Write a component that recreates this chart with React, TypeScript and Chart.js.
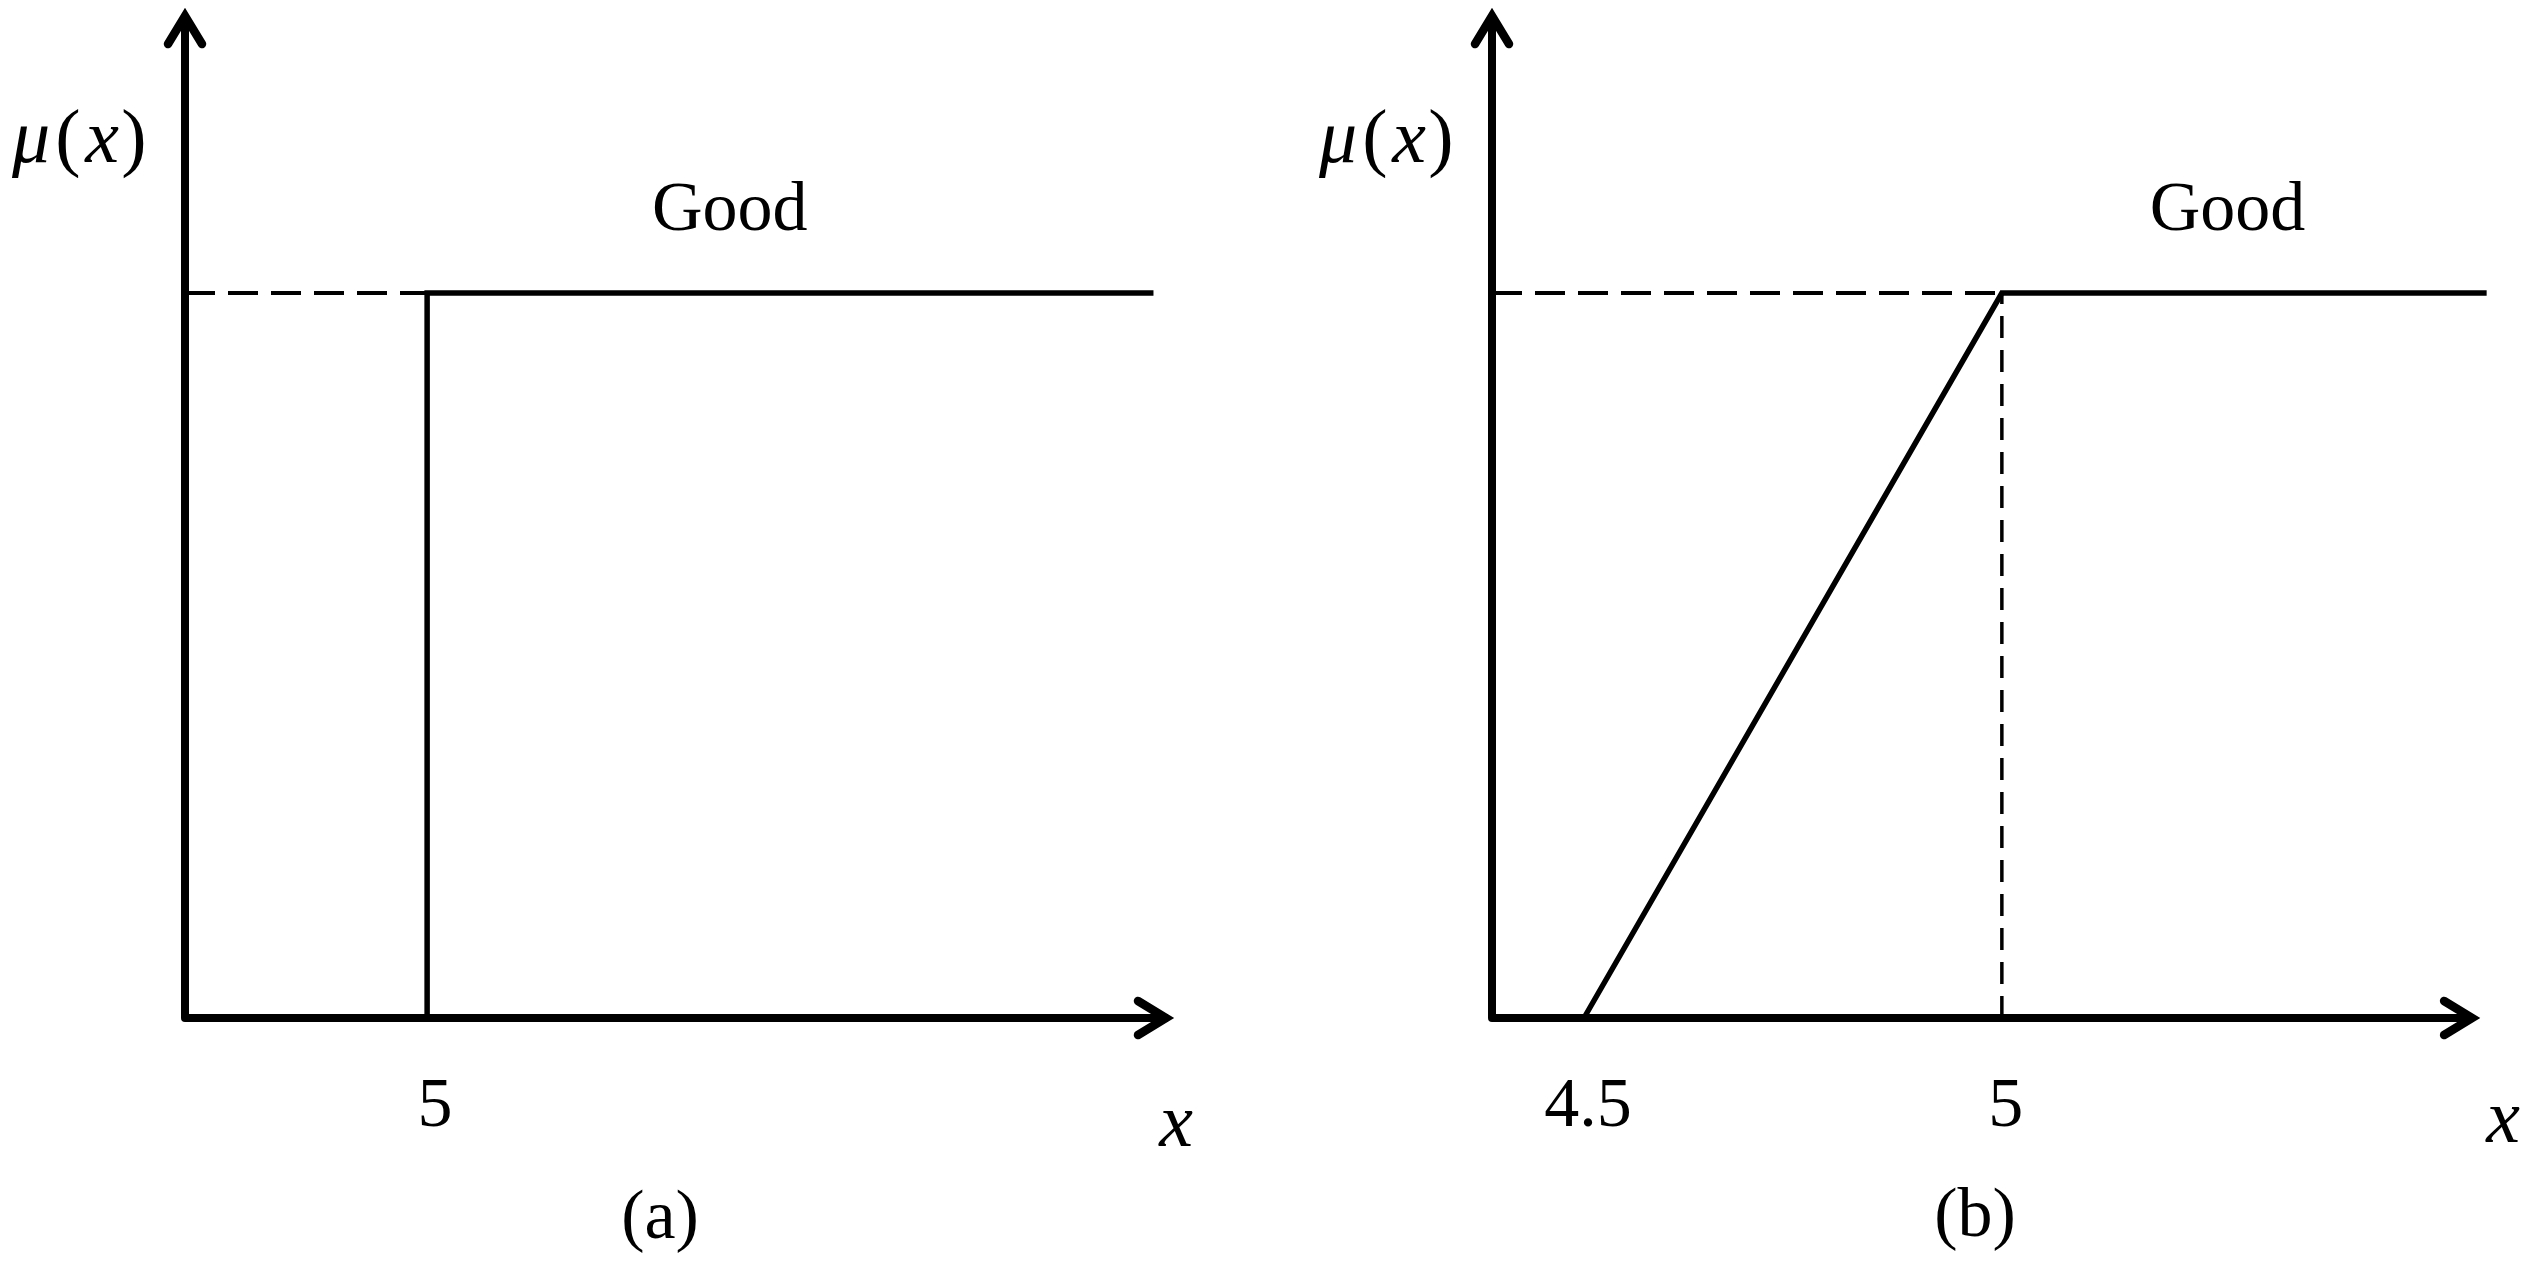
import React, { useEffect, useRef } from "react";
import { Chart, registerables } from "chart.js";
Chart.register(...registerables);

// ---- Panel (a): crisp set ----
const A_STEP_X = [5, 5, 11];
const A_STEP_Y = [0, 1, 1];
const A_DASH_X = [3, 5];
const A_DASH_Y = [1, 1];
const A_TICKS = [5];
const A_TICK_LABELS = ["5"];

// ---- Panel (b): fuzzy set ----
const B_RAMP_X = [4.5, 5, 5.58];
const B_RAMP_Y = [0, 1, 1];
const B_DASH_H_X = [4.39, 5];
const B_DASH_H_Y = [1, 1];
const B_DASH_V_X = [5, 5];
const B_DASH_V_Y = [0, 1];
const B_TICKS = [4.5, 5];
const B_TICK_LABELS = ["4.5", "5"];

const SET_LABEL = "Good";
const Y_LABEL_PARTS = ["μ", "(", "x", ")"];
const X_LABEL = "x";
const CAPTIONS = ["(a)", "(b)"];

const W = 1273;
const H = 1273;
const SERIF = '"Liberation Serif", "Times New Roman", serif';

type Series = { x: number[]; y: number[]; dash?: number[]; width: number };

type PanelCfg = {
  left: number;
  xMin: number;
  xMax: number;
  xArrow: number;
  yMax: number;
  padding: { left: number; right: number; top: number; bottom: number };
  series: Series[];
  ticks: number[];
  tickLabels: string[];
  tickDx: number;
  goodX: number;
  goodY: number;
  caption: string;
  captionX: number;
  captionBaseline: number;
  xLabelDx: number;
  xLabelBaseline: number;
};

const zip = (xs: number[], ys: number[]) => xs.map((x, i) => ({ x, y: ys[i] }));

const PANELS: PanelCfg[] = [
  {
    left: 0,
    xMin: 3,
    xMax: 11.12,
    xArrow: 11.12,
    yMax: 1.385,
    padding: { left: 185, right: W - 1168, top: 14, bottom: H - 1018 },
    series: [
      { x: A_DASH_X, y: A_DASH_Y, dash: [30, 13], width: 4 },
      { x: A_STEP_X, y: A_STEP_Y, width: 5.5 },
    ],
    ticks: A_TICKS,
    tickLabels: A_TICK_LABELS,
    tickDx: 8,
    goodX: 7.5,
    goodY: 1.113,
    caption: CAPTIONS[0],
    captionX: 660,
    captionBaseline: 1238,
    xLabelDx: 8,
    xLabelBaseline: 1146,
  },
  {
    left: 1273,
    xMin: 4.39,
    xMax: 5.59,
    xArrow: 5.565,
    yMax: 1.385,
    padding: { left: 1492 - 1273, right: W - (2495 - 1273), top: 14, bottom: H - 1018 },
    series: [
      { x: B_DASH_H_X, y: B_DASH_H_Y, dash: [30, 13], width: 4 },
      { x: B_DASH_V_X, y: B_DASH_V_Y, dash: [22, 12], width: 3.5 },
      { x: B_RAMP_X, y: B_RAMP_Y, width: 5.5 },
    ],
    ticks: B_TICKS,
    tickLabels: B_TICK_LABELS,
    tickDx: 4,
    goodX: 5.27,
    goodY: 1.113,
    caption: CAPTIONS[1],
    captionX: 1975 - 1273,
    captionBaseline: 1236,
    xLabelDx: 29,
    xLabelBaseline: 1142,
  },
];

function Panel({ cfg }: { cfg: PanelCfg }) {
  const ref = useRef<HTMLCanvasElement | null>(null);
  useEffect(() => {
    if (!ref.current) return;
    const decor = {
      id: "decor",
      afterDatasetsDraw(chart: any) {
        const ctx = chart.ctx as CanvasRenderingContext2D;
        const xs = chart.scales.x;
        const ys = chart.scales.y;
        const x0 = xs.getPixelForValue(cfg.xMin);
        const y0 = ys.getPixelForValue(0);
        const yTop = ys.getPixelForValue(cfg.yMax);
        const xEnd = xs.getPixelForValue(cfg.xArrow);
        ctx.save();
        ctx.strokeStyle = "#000";
        ctx.fillStyle = "#000";
        ctx.lineWidth = 8;
        ctx.lineCap = "round";
        ctx.lineJoin = "round";
        // axes
        ctx.beginPath();
        ctx.moveTo(x0, yTop + 4);
        ctx.lineTo(x0, y0);
        ctx.lineTo(xEnd - 4, y0);
        ctx.stroke();
        // arrow heads
        ctx.lineWidth = 8.5;
        ctx.lineJoin = "miter";
        ctx.beginPath();
        ctx.moveTo(x0 - 17, yTop + 30);
        ctx.lineTo(x0, yTop + 2);
        ctx.lineTo(x0 + 17, yTop + 30);
        ctx.stroke();
        ctx.beginPath();
        ctx.moveTo(xEnd - 30, y0 - 17);
        ctx.lineTo(xEnd - 2, y0);
        ctx.lineTo(xEnd - 30, y0 + 17);
        ctx.stroke();

        // tick labels
        ctx.font = `70px ${SERIF}`;
        ctx.textAlign = "center";
        ctx.textBaseline = "alphabetic";
        cfg.ticks.forEach((t, i) => {
          ctx.fillText(cfg.tickLabels[i], xs.getPixelForValue(t) + cfg.tickDx, 1126);
        });
        // set label
        ctx.textBaseline = "middle";
        ctx.fillText(SET_LABEL, xs.getPixelForValue(cfg.goodX), ys.getPixelForValue(cfg.goodY));
        // caption
        ctx.textBaseline = "alphabetic";
        ctx.fillText(cfg.caption, cfg.captionX, cfg.captionBaseline);
        // x axis label
        ctx.font = `italic 76px ${SERIF}`;
        ctx.fillText(X_LABEL, xEnd + cfg.xLabelDx, cfg.xLabelBaseline);
        // y axis label mu(x)
        const offs = [-154, -117, -83, -51];
        Y_LABEL_PARTS.forEach((p, i) => {
          const italic = p === "μ" || p === "x";
          ctx.font = `${italic ? "italic " : ""}76px ${SERIF}`;
          ctx.fillText(p, x0 + offs[i], 162);
        });
        ctx.restore();
      },
    };
    const chart = new Chart(ref.current, {
      type: "scatter",
      data: {
        datasets: cfg.series.map((s) => ({
          data: zip(s.x, s.y),
          showLine: true,
          borderColor: "#000",
          backgroundColor: "#000",
          borderWidth: s.width,
          borderDash: s.dash || [],
          pointRadius: 0,
          pointHoverRadius: 0,
          fill: false,
          clip: false as any,
          tension: 0,
          borderCapStyle: "butt",
          borderJoinStyle: "miter",
        })),
      },
      options: {
        animation: false,
        responsive: false,
        devicePixelRatio: 1,
        layout: { padding: cfg.padding },
        plugins: { legend: { display: false }, tooltip: { enabled: false } },
        events: [],
        scales: {
          x: { type: "linear", min: cfg.xMin, max: cfg.xMax, display: false },
          y: { type: "linear", min: 0, max: cfg.yMax, display: false },
        },
      },
      plugins: [decor],
    } as any);
    return () => chart.destroy();
  }, [cfg]);
  return (
    <canvas
      ref={ref}
      width={W}
      height={H}
      style={{ position: "absolute", left: cfg.left, top: 0, width: W, height: H }}
    />
  );
}

export default function App() {
  useEffect(() => {
    document.body.style.margin = "0";
    document.body.style.background = "#fff";
  }, []);
  return (
    <div style={{ position: "relative", width: 2546, height: 1273, background: "#fff", overflow: "hidden" }}>
      {PANELS.map((p, i) => (
        <Panel key={i} cfg={p} />
      ))}
    </div>
  );
}
